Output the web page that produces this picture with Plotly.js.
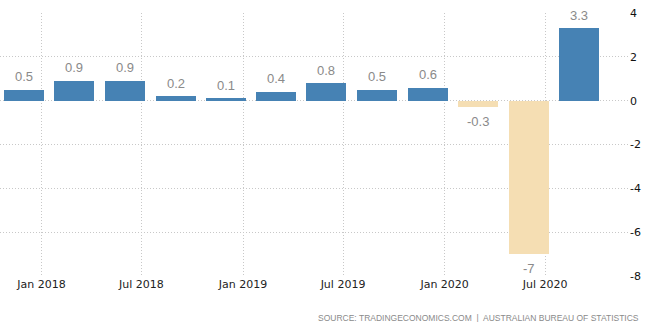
<!DOCTYPE html>
<html>
<head>
<meta charset="utf-8">
<script src="https://cdn.plot.ly/plotly-3.0.1.min.js"></script>
<style>html,body{margin:0;padding:0;background:#fff;}#chart{width:645px;height:322px;}</style>
</head>
<body>
<div id="chart"></div>
<script>
// Quarterly dates (plotted at first day of quarter-end month)
var quarters = ['2017-12-01','2018-03-01','2018-06-01','2018-09-01','2018-12-01','2019-03-01',
                '2019-06-01','2019-09-01','2019-12-01','2020-03-01','2020-06-01','2020-09-01'];
var growth = [0.5, 0.9, 0.9, 0.2, 0.1, 0.4, 0.8, 0.5, 0.6, -0.3, -7, 3.3];
var labels = ['0.5','0.9','0.9','0.2','0.1','0.4','0.8','0.5','0.6','-0.3','-7','3.3'];
var xTickVals = ['2018-01-01','2018-07-01','2019-01-01','2019-07-01','2020-01-01','2020-07-01'];
var xTickText = ['Jan 2018','Jul 2018','Jan 2019','Jul 2019','Jan 2020','Jul 2020'];
var yTickVals = [-8, -6, -4, -2, 0, 2, 4];
var yTickText = ['-8','-6','-4','-2','0','2','4'];
var sourceText = 'SOURCE: TRADINGECONOMICS.COM  |  AUSTRALIAN BUREAU OF STATISTICS';

var POS = '#4682b4', NEG = '#f5deb3';
var colors = growth.map(function(v){ return v >= 0 ? POS : NEG; });
var dayMs = 86400000;

var trace = {
  type: 'bar',
  x: quarters,
  y: growth,
  width: quarters.map(function(){ return 72.4 * dayMs; }),
  marker: {color: colors, line: {width: 0}},
  hoverinfo: 'none'
};

var annotations = growth.map(function(v, i){
  return {
    x: quarters[i], y: v, xref: 'x', yref: 'y',
    text: labels[i], showarrow: false,
    yshift: v >= 0 ? 13 : -14, yanchor: 'middle',
    font: {family: 'Liberation Sans, Arial, sans-serif', size: 13, color: '#8a8a8a'}
  };
});
annotations.push({
  xref: 'paper', yref: 'paper', x: 1.0, y: 0, xshift: 13, yshift: -42,
  xanchor: 'right', yanchor: 'middle', showarrow: false,
  text: sourceText,
  font: {family: 'Liberation Sans, Arial, sans-serif', size: 8.5, color: '#8a8a8a'}
});

var layout = {
  width: 645, height: 322,
  margin: {l: 0, r: 17, t: 13, b: 46, pad: 0},
  paper_bgcolor: '#fff', plot_bgcolor: '#fff',
  showlegend: false,
  bargap: 0,
  xaxis: {
    type: 'date',
    range: ['2017-10-18', '2020-11-28'],
    tickvals: xTickVals, ticktext: xTickText,
    showgrid: true, gridcolor: '#c8c8c8', griddash: '1px,2px', gridwidth: 1,
    zeroline: false, showline: false, ticks: '',
    tickfont: {family: 'DejaVu Sans, sans-serif', size: 11, color: '#222'},
    fixedrange: true
  },
  yaxis: {
    side: 'right',
    range: [-8, 4],
    tickvals: yTickVals, ticktext: yTickText,
    showgrid: true, gridcolor: '#c8c8c8', griddash: '1px,2px', gridwidth: 1,
    zeroline: false, showline: false, ticks: '',
    ticklabelstandoff: 1,
    tickfont: {family: 'DejaVu Sans, sans-serif', size: 11, color: '#111'},
    fixedrange: true
  },
  annotations: annotations
};

Plotly.newPlot('chart', [trace], layout, {staticPlot: true, displayModeBar: false});
</script>
</body>
</html>
